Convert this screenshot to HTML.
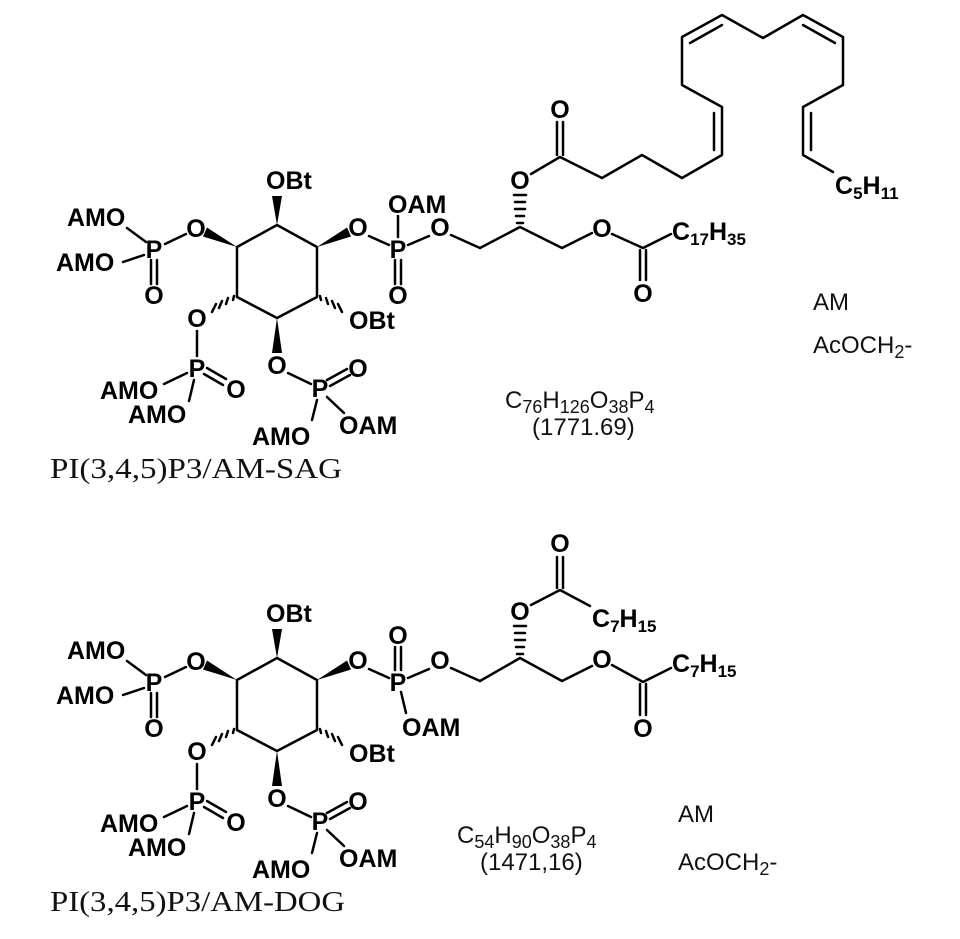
<!DOCTYPE html>
<html><head><meta charset="utf-8">
<style>
html,body{margin:0;padding:0;background:#fff;}
svg{display:block;}
.b{font-family:"Liberation Sans",sans-serif;font-weight:bold;font-size:25px;fill:#000;}
.r{font-family:"Liberation Sans",sans-serif;font-size:24px;fill:#111;}
.s{font-family:"Liberation Serif",serif;font-size:28px;fill:#111;}
line,polyline{stroke:#000;stroke-width:2.5;fill:none;stroke-linecap:round;stroke-linejoin:round;}
</style></head>
<body>
<svg width="960" height="939" viewBox="0 0 960 939" xmlns="http://www.w3.org/2000/svg">
<defs>
<g id="core">
  <polyline points="277,225 317,247 317,297 277,318 237,297 237,247 277,225"/>
  <polygon points="277,225 272,196 282,196" fill="#000"/>
  <polygon points="237,247 207,227.5 203,236.5" fill="#000"/>
  <polygon points="317,247 347,227.5 351,236.5" fill="#000"/>
  <polygon points="277,318 272,353 282,353" fill="#000"/>
  <g stroke="#000" stroke-width="2.2">
    <line x1="234" y1="296" x2="233" y2="300"/>
    <line x1="228" y1="298" x2="226" y2="304"/>
    <line x1="222" y1="301" x2="219" y2="308"/>
    <line x1="216" y1="304" x2="212" y2="312"/>
    <line x1="320" y1="296" x2="321" y2="300"/>
    <line x1="326" y1="298" x2="328" y2="304"/>
    <line x1="332" y1="301" x2="335" y2="308"/>
    <line x1="338" y1="304" x2="342" y2="312"/>
  </g>
  <text class="b" x="266" y="189">OBt</text>
  <text class="b" x="67" y="226">AMO</text>
  <text class="b" x="56" y="271">AMO</text>
  <text class="b" x="196" y="237" text-anchor="middle">O</text>
  <text class="b" x="154" y="258" text-anchor="middle">P</text>
  <text class="b" x="154" y="304" text-anchor="middle">O</text>
  <line x1="186" y1="234" x2="165" y2="244"/>
  <line x1="127" y1="228" x2="146" y2="242"/>
  <line x1="123" y1="262" x2="144" y2="255"/>
  <line x1="151" y1="260" x2="151" y2="284"/>
  <line x1="157" y1="260" x2="157" y2="284"/>
  <text class="b" x="358" y="236" text-anchor="middle">O</text>
  <line x1="369" y1="236" x2="389" y2="245"/>
  <text class="b" x="398" y="258" text-anchor="middle">P</text>
  <text class="b" x="440" y="236" text-anchor="middle">O</text>
  <line x1="408" y1="245" x2="429" y2="236"/>
  <line x1="451" y1="235" x2="480" y2="248"/>
  <text class="b" x="349" y="329">OBt</text>
  <text class="b" x="197" y="327" text-anchor="middle">O</text>
  <line x1="197" y1="331" x2="197" y2="356"/>
  <text class="b" x="197" y="377" text-anchor="middle">P</text>
  <text class="b" x="236" y="398" text-anchor="middle">O</text>
  <line x1="207" y1="368" x2="226" y2="379"/>
  <line x1="204" y1="374" x2="223" y2="385"/>
  <text class="b" x="100" y="399">AMO</text>
  <text class="b" x="128" y="423">AMO</text>
  <line x1="164" y1="384" x2="187" y2="373"/>
  <line x1="194" y1="380" x2="189" y2="401"/>
  <text class="b" x="277" y="374" text-anchor="middle">O</text>
  <line x1="288" y1="373" x2="311" y2="384"/>
  <text class="b" x="320" y="397" text-anchor="middle">P</text>
  <text class="b" x="358" y="377" text-anchor="middle">O</text>
  <line x1="327" y1="380" x2="347" y2="369"/>
  <line x1="330" y1="386" x2="350" y2="375"/>
  <line x1="327" y1="397" x2="344" y2="413"/>
  <line x1="317" y1="400" x2="312" y2="420"/>
  <text class="b" x="339" y="434">OAM</text>
  <text class="b" x="252" y="445">AMO</text>
</g>
</defs>

<use href="#core"/>
<text class="b" x="388" y="213">OAM</text>
<line x1="398" y1="216" x2="398" y2="237"/>
<line x1="395" y1="260" x2="395" y2="284"/>
<line x1="401" y1="260" x2="401" y2="284"/>
<text class="b" x="398" y="304" text-anchor="middle">O</text>
<polyline points="480,248 520,227 562,248 592,233"/>
<text class="b" x="602" y="237" text-anchor="middle">O</text>
<polyline points="612,234 643,248 671,234"/>
<line x1="640" y1="250" x2="640" y2="280"/>
<line x1="646" y1="250" x2="646" y2="280"/>
<text class="b" x="643" y="302" text-anchor="middle">O</text>
<text class="b" x="672" y="240">C<tspan font-size="17" dy="5">17</tspan><tspan dy="-5">H</tspan><tspan font-size="17" dy="5">35</tspan></text>
<g stroke="#000" stroke-width="2.2">
  <line x1="517" y1="223" x2="523" y2="223"/>
  <line x1="516" y1="216" x2="524" y2="216"/>
  <line x1="515" y1="209" x2="525" y2="209"/>
  <line x1="515" y1="202" x2="525" y2="202"/>
  <line x1="514" y1="195" x2="526" y2="195"/>
</g>
<text class="b" x="520" y="189" text-anchor="middle">O</text>
<polyline points="531,174 560,157 602,178 642,155 682,178 722,155 722,107 682,85 682,37 722,15 763,38 803,15 843,37 843,85 803,107 803,155 833,172"/>
<line x1="557" y1="155" x2="557" y2="122"/>
<line x1="563" y1="155" x2="563" y2="122"/>
<text class="b" x="560" y="118" text-anchor="middle">O</text>
<line x1="714" y1="113" x2="714" y2="150"/>
<line x1="690" y1="43" x2="722" y2="25"/>
<line x1="803" y1="25" x2="835" y2="43"/>
<line x1="811" y1="113" x2="811" y2="150"/>
<text class="b" x="835" y="194">C<tspan font-size="17" dy="5">5</tspan><tspan dy="-5">H</tspan><tspan font-size="17" dy="5">11</tspan></text>
<text class="r" x="505" y="408">C<tspan font-size="18" dy="5">76</tspan><tspan dy="-5">H</tspan><tspan font-size="18" dy="5">126</tspan><tspan dy="-5">O</tspan><tspan font-size="18" dy="5">38</tspan><tspan dy="-5">P</tspan><tspan font-size="18" dy="5">4</tspan></text>
<text class="r" x="532" y="435">(1771.69)</text>
<text class="r" x="813" y="310">AM</text>
<text class="r" x="813" y="353">AcOCH<tspan font-size="18" dy="5">2</tspan><tspan dy="-5">-</tspan></text>
<text class="s" x="50" y="478" textLength="292" lengthAdjust="spacingAndGlyphs">PI(3,4,5)P3/AM-SAG</text>

<use href="#core" transform="translate(0,433)"/>
<text class="b" x="398" y="644" text-anchor="middle">O</text>
<line x1="395" y1="647" x2="395" y2="670"/>
<line x1="401" y1="647" x2="401" y2="670"/>
<line x1="401" y1="692" x2="406" y2="713"/>
<text class="b" x="402" y="736">OAM</text>
<polyline points="480,681 520,658 562,681 592,666"/>
<text class="b" x="602" y="668" text-anchor="middle">O</text>
<polyline points="612,665 643,682 671,668"/>
<line x1="640" y1="684" x2="640" y2="715"/>
<line x1="646" y1="684" x2="646" y2="715"/>
<text class="b" x="643" y="737" text-anchor="middle">O</text>
<text class="b" x="672" y="672">C<tspan font-size="17" dy="5">7</tspan><tspan dy="-5">H</tspan><tspan font-size="17" dy="5">15</tspan></text>
<g stroke="#000" stroke-width="2.2">
  <line x1="517" y1="654" x2="523" y2="654"/>
  <line x1="516" y1="647" x2="524" y2="647"/>
  <line x1="515" y1="640" x2="525" y2="640"/>
  <line x1="515" y1="633" x2="525" y2="633"/>
  <line x1="514" y1="626" x2="526" y2="626"/>
</g>
<text class="b" x="520" y="620" text-anchor="middle">O</text>
<polyline points="531,605 560,590 590,606"/>
<line x1="557" y1="588" x2="557" y2="557"/>
<line x1="563" y1="588" x2="563" y2="557"/>
<text class="b" x="560" y="552" text-anchor="middle">O</text>
<text class="b" x="592" y="627">C<tspan font-size="17" dy="5">7</tspan><tspan dy="-5">H</tspan><tspan font-size="17" dy="5">15</tspan></text>
<text class="r" x="457" y="843">C<tspan font-size="18" dy="5">54</tspan><tspan dy="-5">H</tspan><tspan font-size="18" dy="5">90</tspan><tspan dy="-5">O</tspan><tspan font-size="18" dy="5">38</tspan><tspan dy="-5">P</tspan><tspan font-size="18" dy="5">4</tspan></text>
<text class="r" x="480" y="870">(1471,16)</text>
<text class="r" x="678" y="822">AM</text>
<text class="r" x="678" y="870">AcOCH<tspan font-size="18" dy="5">2</tspan><tspan dy="-5">-</tspan></text>
<text class="s" x="50" y="911" textLength="295" lengthAdjust="spacingAndGlyphs">PI(3,4,5)P3/AM-DOG</text>
</svg>
</body></html>
